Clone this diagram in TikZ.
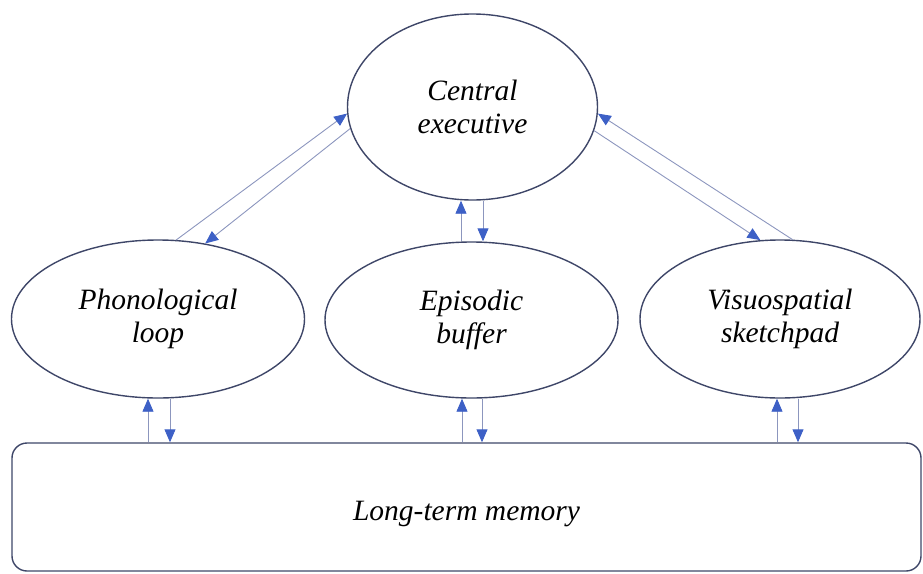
\documentclass[tikz,border=0pt]{standalone}
\usepackage{fontspec}
\setmainfont{Liberation Serif}
\usetikzlibrary{shapes.geometric,arrows.meta,calc}

\definecolor{outline}{HTML}{3E4668}
\definecolor{linkline}{HTML}{8C96BE}
\definecolor{tipblue}{HTML}{3D60C6}

\tikzset{
  component/.style={ellipse, draw=outline, line width=1.4pt, inner sep=0pt,
    align=center, font=\itshape\fontsize{29.5}{33}\selectfont},
  store/.style={rectangle, rounded corners=15pt, draw=outline, line width=1.4pt,
    inner sep=0pt, font=\itshape\fontsize{29.5}{33}\selectfont},
  link/.style={draw=linkline, line width=0.9pt,
    -{Triangle[length=13pt,width=11pt,color=tipblue]}}
}

\begin{document}
\begin{tikzpicture}[x=1pt,y=-1pt]
  \useasboundingbox (0,0) rectangle (923,573);

  % working-memory components
  \node[component, minimum width=250pt, minimum height=186pt] (ce) at (472.5,107) {Central\\executive};
  \node[component, minimum width=293pt, minimum height=158pt] (pl) at (158,319) {Phonological\\loop};
  \node[component, minimum width=293pt, minimum height=156pt] (eb) at (471.5,320) {Episodic\\buffer};
  \node[component, minimum width=280pt, minimum height=158pt] (vs) at (780,319) {Visuospatial\\sketchpad};

  % long-term store (taller text box lowers the label slightly)
  \node[store, minimum width=909pt, minimum height=128pt, text height=34pt, text depth=7pt] (ltm) at (466.5,507) {Long-term memory};

  % x positions of the vertical link pairs
  \coordinate (pu) at (148,0);
  \coordinate (pd) at (170,0);
  \coordinate (eu) at (461,0);
  \coordinate (ed) at (483,0);
  \coordinate (bu) at (462,0);
  \coordinate (bd) at (482,0);
  \coordinate (vu) at (777,0);
  \coordinate (vd) at (798,0);

  % central executive <-> slave systems
  \draw[link] (pl.77.9) -- (ce.183.6);
  \draw[link] (ce.190.5) -- (pl.58);
  \draw[link] (vs.81.4) -- (ce.357.2);
  \draw[link] (ce.349.4) -- (vs.104);
  \draw[link] (eu |- eb.north) -- (eu |- ce.south);
  \draw[link] (ed |- ce.south) -- (ed |- eb.north);

  % slave systems <-> long-term memory
  \draw[link] (pu |- ltm.north) -- (pu |- pl.south);
  \draw[link] (pd |- pl.south) -- (pd |- ltm.north);
  \draw[link] (bu |- ltm.north) -- (bu |- eb.south);
  \draw[link] (bd |- eb.south) -- (bd |- ltm.north);
  \draw[link] (vu |- ltm.north) -- (vu |- vs.south);
  \draw[link] (vd |- vs.south) -- (vd |- ltm.north);
\end{tikzpicture}
\end{document}
